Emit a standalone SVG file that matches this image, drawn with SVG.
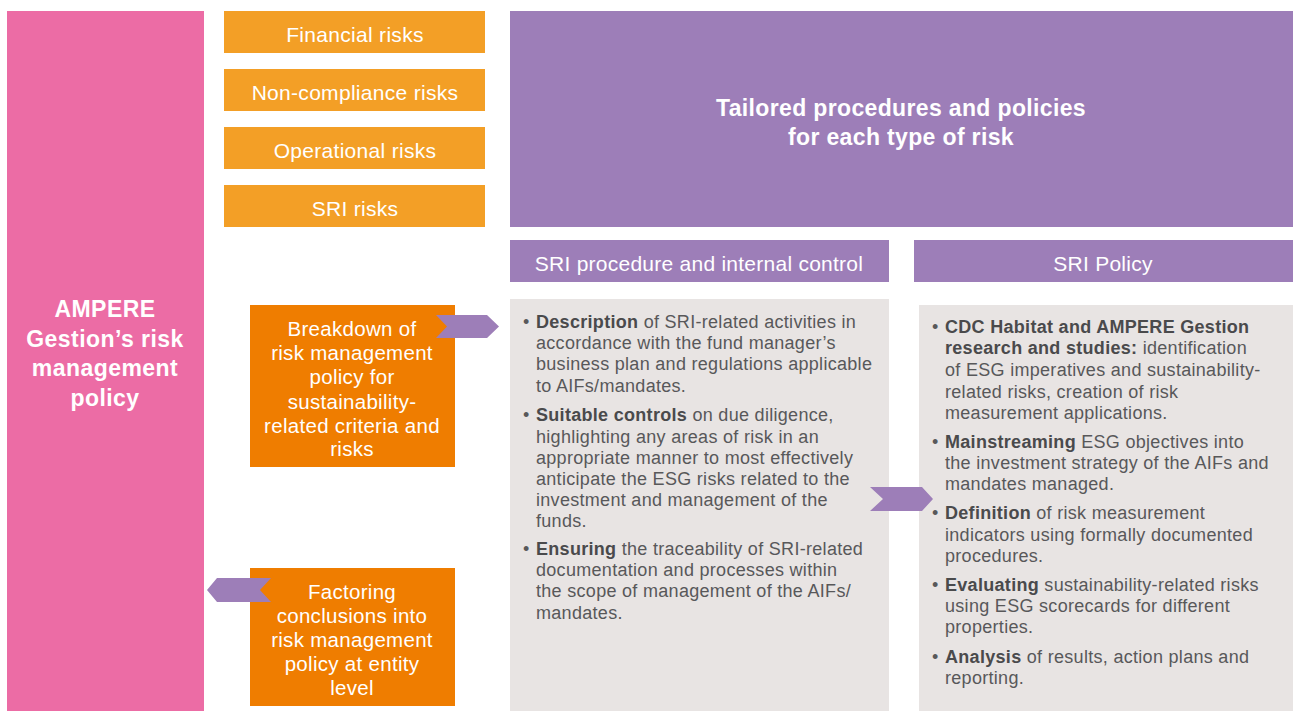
<svg xmlns="http://www.w3.org/2000/svg" width="1293" height="711" viewBox="0 0 1293 711">
<style>
.t{font-family:"Liberation Sans",Arial,sans-serif;}
.w{fill:#fff;}
.c{text-anchor:middle;}
.risk{font-size:21px;letter-spacing:0.3px;}
.hdr{font-size:21px;letter-spacing:0.25px;}
.box{font-size:20.5px;letter-spacing:0.3px;}
.body{font-family:"Liberation Sans",Arial,sans-serif;font-size:18px;letter-spacing:0.3px;fill:#58585a;}
.b{font-weight:bold;fill:#4a4a4c;}
.pink{fill:#EC6CA5;}
.lor{fill:#F39F26;}
.dor{fill:#EF7D00;}
.pur{fill:#9D7EB8;}
.gry{fill:#E8E4E3;}
</style>
<rect width="1293" height="711" fill="#fff"/>
<g id="ampere">
<rect class="pink" x="7" y="11" width="197" height="700"/>
<text class="t w c" font-size="23" font-weight="bold" letter-spacing="0.45"><tspan x="105" y="317">AMPERE</tspan><tspan x="105" y="347">Gestion’s risk</tspan><tspan x="105" y="376">management</tspan><tspan x="105" y="406">policy</tspan></text>
</g>
<g id="financial">
<rect class="lor" x="224" y="11" width="261" height="42"/>
<text class="t w c risk" x="355" y="42">Financial risks</text>
</g>
<g id="noncompliance">
<rect class="lor" x="224" y="69" width="261" height="42"/>
<text class="t w c risk" x="355" y="100">Non-compliance risks</text>
</g>
<g id="operational">
<rect class="lor" x="224" y="127" width="261" height="42"/>
<text class="t w c risk" x="355" y="158">Operational risks</text>
</g>
<g id="sri-risks">
<rect class="lor" x="224" y="185" width="261" height="42"/>
<text class="t w c risk" x="355" y="216">SRI risks</text>
</g>
<g id="tailored">
<rect class="pur" x="510" y="11" width="783" height="216"/>
<text class="t w c" font-size="23" font-weight="bold" letter-spacing="0.35"><tspan x="901" y="116">Tailored procedures and policies</tspan><tspan x="901" y="145">for each type of risk</tspan></text>
</g>
<g id="sri-procedure-header">
<rect class="pur" x="510" y="240" width="379" height="42"/>
<text class="t w c hdr" x="699" y="271">SRI procedure and internal control</text>
</g>
<g id="sri-policy-header">
<rect class="pur" x="914" y="240" width="379" height="42"/>
<text class="t w c hdr" x="1103" y="271">SRI Policy</text>
</g>
<g id="breakdown">
<rect class="dor" x="250" y="305" width="205" height="162"/>
<text class="t w c box"><tspan x="352" y="336">Breakdown of</tspan><tspan x="352" y="360">risk management</tspan><tspan x="352" y="384">policy for</tspan><tspan x="352" y="409">sustainability-</tspan><tspan x="352" y="433">related criteria and</tspan><tspan x="352" y="456">risks</tspan></text>
</g>
<g id="factoring">
<rect class="dor" x="250" y="568" width="205" height="138"/>
<text class="t w c box"><tspan x="352" y="599">Factoring</tspan><tspan x="352" y="623">conclusions into</tspan><tspan x="352" y="647">risk management</tspan><tspan x="352" y="671">policy at entity</tspan><tspan x="352" y="695">level</tspan></text>
</g>
<g id="procedure-box">
<rect class="gry" x="510" y="299" width="379" height="412"/>
<text class="body">
<tspan x="523" y="328">•</tspan><tspan x="536" y="328" class="b">Description</tspan><tspan> of SRI-related activities in</tspan>
<tspan x="536" y="349">accordance with the fund manager’s</tspan>
<tspan x="536" y="370">business plan and regulations applicable</tspan>
<tspan x="536" y="392">to AIFs/mandates.</tspan>
<tspan x="523" y="421">•</tspan><tspan x="536" y="421" class="b">Suitable controls</tspan><tspan> on due diligence,</tspan>
<tspan x="536" y="443">highlighting any areas of risk in an</tspan>
<tspan x="536" y="464">appropriate manner to most effectively</tspan>
<tspan x="536" y="485">anticipate the ESG risks related to the</tspan>
<tspan x="536" y="506">investment and management of the</tspan>
<tspan x="536" y="527">funds.</tspan>
<tspan x="523" y="555">•</tspan><tspan x="536" y="555" class="b">Ensuring</tspan><tspan> the traceability of SRI-related</tspan>
<tspan x="536" y="576">documentation and processes within</tspan>
<tspan x="536" y="597">the scope of management of the AIFs/</tspan>
<tspan x="536" y="619">mandates.</tspan>
</text>
</g>
<g id="policy-box">
<rect class="gry" x="919" y="305" width="374" height="406"/>
<text class="body">
<tspan x="932" y="333">•</tspan><tspan x="945" y="333" class="b">CDC Habitat and AMPERE Gestion</tspan>
<tspan x="945" y="354" class="b">research and studies:</tspan><tspan> identification</tspan>
<tspan x="945" y="376">of ESG imperatives and sustainability-</tspan>
<tspan x="945" y="398">related risks, creation of risk</tspan>
<tspan x="945" y="419">measurement applications.</tspan>
<tspan x="932" y="448">•</tspan><tspan x="945" y="448" class="b">Mainstreaming</tspan><tspan> ESG objectives into</tspan>
<tspan x="945" y="469">the investment strategy of the AIFs and</tspan>
<tspan x="945" y="490">mandates managed.</tspan>
<tspan x="932" y="519">•</tspan><tspan x="945" y="519" class="b">Definition</tspan><tspan> of risk measurement</tspan>
<tspan x="945" y="541">indicators using formally documented</tspan>
<tspan x="945" y="562">procedures.</tspan>
<tspan x="932" y="591">•</tspan><tspan x="945" y="591" class="b">Evaluating</tspan><tspan> sustainability-related risks</tspan>
<tspan x="945" y="612">using ESG scorecards for different</tspan>
<tspan x="945" y="633">properties.</tspan>
<tspan x="932" y="663">•</tspan><tspan x="945" y="663" class="b">Analysis</tspan><tspan> of results, action plans and</tspan>
<tspan x="945" y="684">reporting.</tspan>
</text>
</g>
<g id="connectors" class="pur">
<polygon points="436,315 487,315 499,326.5 487,338 436,338 447,326.5"/>
<polygon points="870,487 922,487 933,499 922,511 870,511 883,499"/>
<polygon points="271,578 217,578 207,590 217,602 271,602 260,590"/>
</g>
</svg>
